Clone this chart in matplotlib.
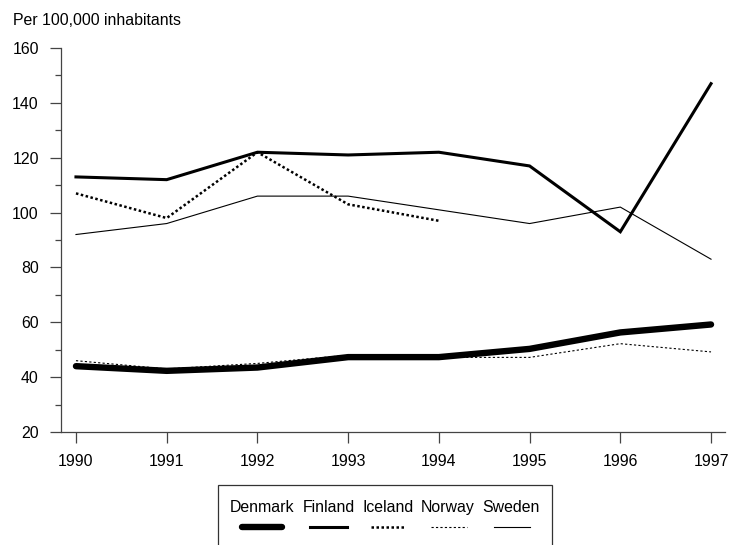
import matplotlib
matplotlib.use("Agg")
import matplotlib.pyplot as plt
from matplotlib.lines import Line2D
from matplotlib.patches import Rectangle
from matplotlib.ticker import MultipleLocator

plt.rcParams['font.family'] = ['Liberation Sans', 'DejaVu Sans']

years = [1990, 1991, 1992, 1993, 1994, 1995, 1996, 1997]
denmark = [44, 42.3, 43.5, 47.3, 47.3, 50.3, 56.3, 59.2]
finland = [113, 112, 122, 121, 122, 117, 93, 147]
iceland_years = [1990, 1991, 1992, 1993, 1994]
iceland = [107, 98, 122, 103, 97]
norway = [46, 43, 45, 48, 47.2, 47.2, 52.2, 49.2]
sweden = [92, 96, 106, 106, 101, 96, 102, 83]

names = ["Denmark", "Finland", "Iceland", "Norway", "Sweden"]

FS = 11.4
W, H = 730, 545
fig = plt.figure(figsize=(W / 100, H / 100), dpi=100)
ax = fig.add_axes([61 / W, 1 - 432 / H, (725 - 61) / W, (432 - 48) / H])

styles = {
    "Denmark": dict(color="black", lw=4.6, ls="-", solid_capstyle="round", solid_joinstyle="round"),
    "Finland": dict(color="black", lw=2.2, ls="-", solid_joinstyle="miter"),
    "Iceland": dict(color="black", lw=1.8, ls=(0, (1.0, 1.0))),
    "Norway": dict(color="black", lw=0.8, ls=(0, (2.0, 2.0))),
    "Sweden": dict(color="black", lw=0.8, ls="-"),
}

ax.plot(years, sweden, **styles["Sweden"])
ax.plot(years, norway, **styles["Norway"])
ax.plot(iceland_years, iceland, **styles["Iceland"])
ax.plot(years, finland, **styles["Finland"])
ax.plot(years, denmark, **styles["Denmark"])

ax.set_xlim(1989.835, 1997.154)
ax.set_ylim(20, 160)
ax.set_xticks(years)
ax.set_xticklabels([str(y) for y in years])
ax.yaxis.set_major_locator(MultipleLocator(20))
ax.yaxis.set_minor_locator(MultipleLocator(10))

for s in ["top", "right"]:
    ax.spines[s].set_visible(False)
for s in ["left", "bottom"]:
    ax.spines[s].set_color("#444444")
    ax.spines[s].set_linewidth(0.9)

ax.tick_params(axis="both", which="major", direction="out", length=8, width=0.9,
               color="#444444", labelsize=FS)
ax.tick_params(axis="y", which="major", pad=8)
ax.tick_params(axis="x", which="major", pad=8)
ax.tick_params(axis="y", which="minor", direction="out", length=4, width=0.9, color="#444444")

fig.text(13 / W, 1 - 25 / H, "Per 100,000 inhabitants", fontsize=FS, ha="left", va="baseline")

# Legend box (text above line sample)
box = Rectangle((218 / W, -0.05), (552 - 218) / W, (1 - 485 / H) + 0.05,
                transform=fig.transFigure, fill=False, edgecolor="#333333", lw=0.9)
fig.patches.append(box)
text_cx = [262, 329, 388, 448, 511]
handle_x = [(242, 282), (310, 347), (371, 405), (431, 467), (494, 530)]
for n, cx, (x0, x1) in zip(names, text_cx, handle_x):
    fig.text(cx / W, 1 - 512 / H, n, fontsize=FS, ha="center", va="baseline")
    st = dict(styles[n])
    fig.lines.append(Line2D([x0 / W, x1 / W], [1 - 527 / H, 1 - 527 / H],
                            transform=fig.transFigure, **st))

fig.savefig("out.png", dpi=100)
